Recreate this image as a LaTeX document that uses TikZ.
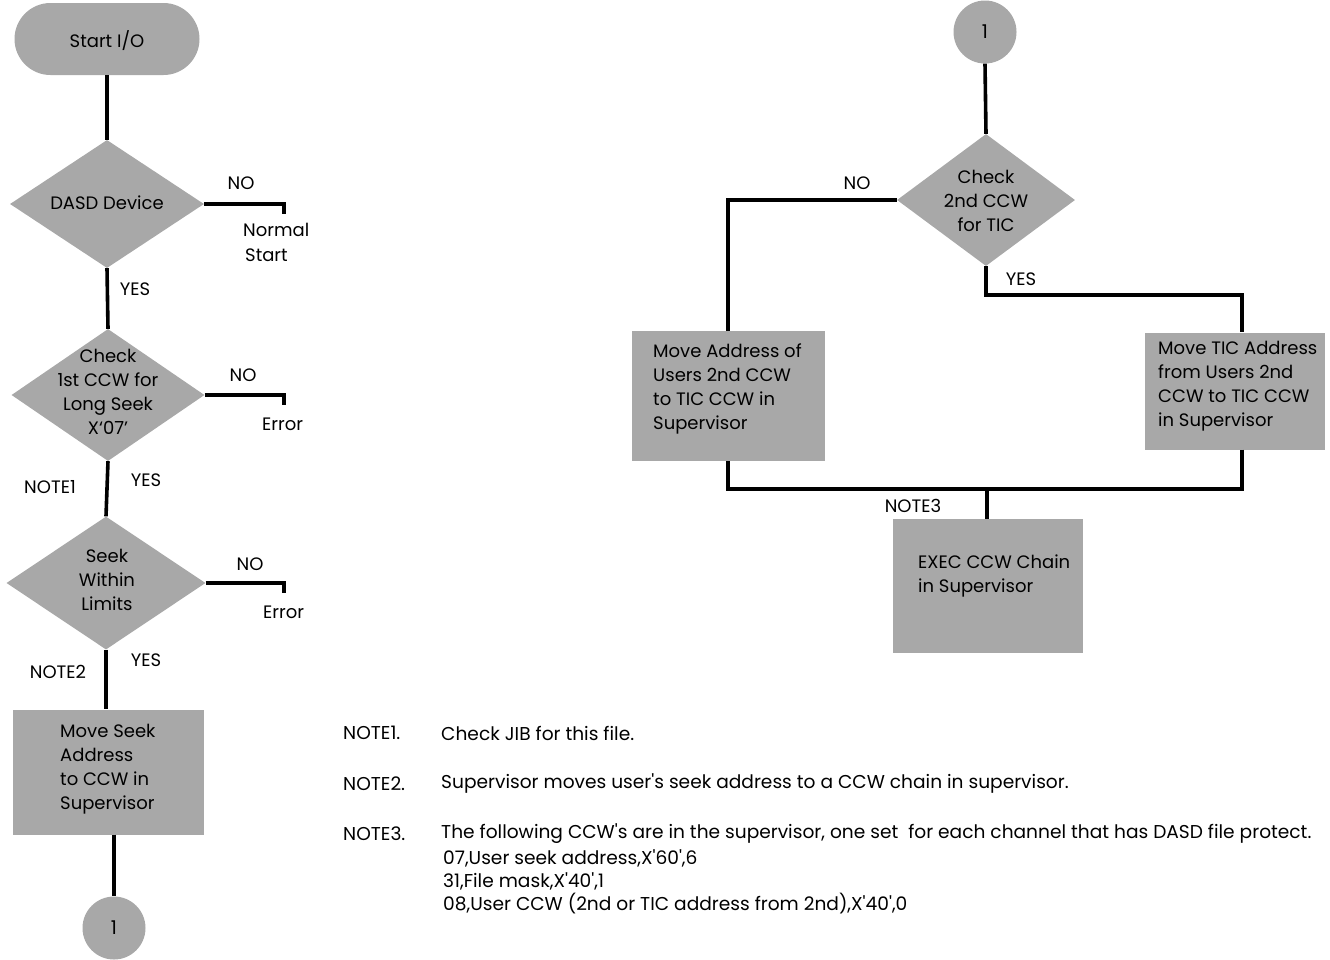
\documentclass[tikz,border=0pt]{standalone}
\usepackage{fontspec}
\setmainfont{Poppins}
\usetikzlibrary{shapes.geometric}
\definecolor{shade}{RGB}{168,168,168}
\newcommand{\sq}{\textquotesingle}
\tikzset{
  conn/.style={line width=3.6pt},
  dia/.style={diamond,fill=shade,inner sep=0pt,draw=none},
  pbox/.style={rectangle,fill=shade,inner sep=0pt,draw=none},
  conncirc/.style={circle,fill=shade,inner sep=0pt,minimum size=63pt,font=\fontsize{19}{24}\selectfont},
  txt/.style={font=\fontsize{18}{24}\selectfont,align=center,inner sep=0pt},
  ltxt/.style={font=\fontsize{18}{24}\selectfont,align=left,inner sep=0pt,anchor=west},
  lab/.style={font=\fontsize{18}{24}\selectfont,inner sep=0pt},
  note/.style={font=\fontsize{18.6}{23}\selectfont,inner sep=0pt,anchor=west}
}
\begin{document}
\begin{tikzpicture}[x=1pt,y=-1pt]
\useasboundingbox (0,0) rectangle (1330,959);
% left column
\node[pbox,rounded corners=36pt,minimum width=185pt,minimum height=72pt] (start) at (107,39) {};
\node[txt] (startt) at (107,41) {Start I/O};
\node[dia,minimum width=194pt,minimum height=128pt] (d1) at (107,204) {};
\node[txt] (d1t) at (107,203) {DASD Device};
\node[dia,minimum width=193pt,minimum height=132pt] (d2) at (108,395) {};
\node[txt] (d2t) at (108,392) {Check\\1st CCW for\\Long Seek\\X`07'};
\node[dia,minimum width=199pt,minimum height=133pt] (d3) at (106,583) {};
\node[txt] (d3t) at (107,580) {Seek\\Within\\Limits};
\node[pbox,minimum width=191pt,minimum height=125pt] (b1) at (108,772) {};
\node[ltxt] (b1t) at (60,769) {Move Seek\\Address\\to CCW in\\Supervisor};
\node[conncirc] (c1) at (114,928) {1};

\coordinate (e1) at (284,214);
\coordinate (e2) at (284,405);
\coordinate (e3) at (284,593);
\draw[conn] (start.south) -- (d1.north);
\draw[conn] (d1.east) -| (e1);
\draw[conn] (d1.south) -- (d2.north);
\draw[conn] (d2.east) -| (e2);
\draw[conn] (d2.south) -- (d3.north);
\draw[conn] (d3.east) -| (e3);
\draw[conn] (d3.south) -- (d3.south |- b1.north);
\draw[conn] (b1.south -| c1.north) -- (c1.north);

\node[lab] (no1) at (241,183) {NO};
\node[lab,anchor=west] (ns1) at (243,230) {Normal};
\node[lab,anchor=west] (ns2) at (245,255) {Start};
\node[lab] (yes1) at (135,289) {YES};
\node[lab] (no2) at (243,375) {NO};
\node[lab,anchor=west] (er1) at (262,424) {Error};
\node[lab] (yes2) at (146,480) {YES};
\node[lab] (nt1) at (50,487) {NOTE1};
\node[lab] (no3) at (250,564) {NO};
\node[lab,anchor=west] (er2) at (263,612) {Error};
\node[lab] (yes3) at (146,660) {YES};
\node[lab] (nt2) at (58,672) {NOTE2};

% right part
\node[conncirc] (c2) at (985,32) {1};
\node[dia,minimum width=178pt,minimum height=132pt] (d4) at (986,200) {};
\node[txt] (d4t) at (986,201) {Check\\2nd CCW\\for TIC};
\node[pbox,minimum width=193pt,minimum height=130pt] (b2) at (728,396) {};
\node[ltxt] (b2t) at (653,389) {Move Address of\\Users 2nd CCW\\to TIC CCW in\\Supervisor};
\node[pbox,minimum width=180pt,minimum height=117pt] (b3) at (1235,391) {};
\node[ltxt] (b3t) at (1158,386) {Move TIC Address\\from Users 2nd\\CCW to TIC CCW\\in Supervisor};
\node[pbox,minimum width=190pt,minimum height=134pt] (b4) at (988,586) {};
\node[ltxt] (b4t) at (918,576) {EXEC CCW Chain\\in Supervisor};

\coordinate (yj) at (986,295);
\coordinate (mj) at (987,489);
\draw[conn] (c2.south) -- (d4.north);
\draw[conn] (d4.west) -| (b2.north);
\draw[conn] (d4.south) -- (yj) -| ([xshift=7pt]b3.north);
\draw[conn] (b2.south) |- (mj);
\draw[conn] ([xshift=7pt]b3.south) |- (mj);
\draw[conn] (mj) -- (b4.north -| mj);

\node[lab] (no4) at (857,183) {NO};
\node[lab] (yes4) at (1021,279) {YES};
\node[lab] (nt3) at (913,506) {NOTE3};

% notes
\node[note] (n1a) at (343,733) {NOTE1.};
\node[note] (n1b) at (441,733) {Check JIB for this file.};
\node[note] (n2a) at (343,784) {NOTE2.};
\node[note] (n2b) at (441,784) {Supervisor moves user\sq s seek address to a CCW chain in supervisor.};
\node[note] (n3a) at (343,834) {NOTE3.};
\node[note] (n3b) at (441,834) {The following CCW\sq s are in the supervisor, one set\ \ for each channel that has DASD file protect.};
\node[note] (n3c) at (443,858) {07,User seek address,X\sq 60\sq ,6};
\node[note] (n3d) at (443,881) {31,File mask,X\sq 40\sq ,1};
\node[note] (n3e) at (443,904) {08,User CCW (2nd or TIC address from 2nd),X\sq 40\sq ,0};
\end{tikzpicture}
\end{document}
